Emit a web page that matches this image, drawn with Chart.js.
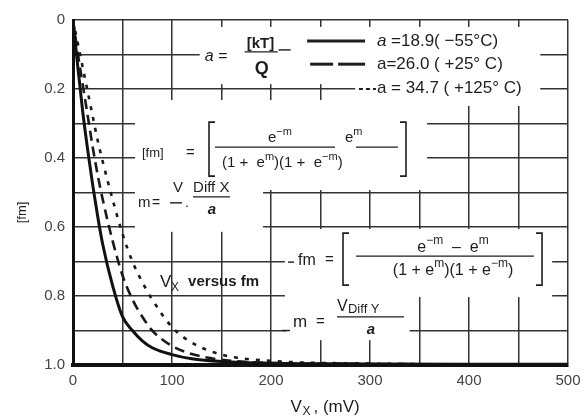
<!DOCTYPE html>
<html>
<head>
<meta charset="utf-8">
<script src="https://cdn.jsdelivr.net/npm/chart.js@4.4.1/dist/chart.umd.min.js"></script>
<style>
  html, body { margin: 0; padding: 0; background: #fff; }
  #wrap { width: 588px; height: 420px; }
</style>
</head>
<body>
<div id="wrap"><canvas id="fm-chart" width="588" height="420"></canvas></div>
<script>
// Vx (mV) sample points
const vxValues = [0, 5, 10, 15, 20, 25, 30, 40, 50, 60, 70, 80, 100, 120, 150, 200, 300, 400, 500];

// fm for the three temperatures
const fmCold = [0, 0.14, 0.27, 0.38, 0.48, 0.57, 0.65, 0.77, 0.86, 0.90, 0.93, 0.95, 0.97, 0.982, 0.99, 0.995, 0.997, 0.998, 0.998];
const fmRoom = [0, 0.10, 0.19, 0.28, 0.37, 0.45, 0.52, 0.64, 0.74, 0.81, 0.86, 0.90, 0.945, 0.968, 0.985, 0.994, 0.997, 0.998, 0.998];
const fmHot  = [0, 0.07, 0.14, 0.21, 0.28, 0.35, 0.41, 0.52, 0.62, 0.70, 0.76, 0.81, 0.89, 0.935, 0.97, 0.988, 0.996, 0.998, 0.998];

const seriesLabels = ['a =18.9( −55°C)', 'a=26.0 ( +25° C)', 'a = 34.7 ( +125° C)'];

// tick labels
const xTickLabels = ['0', '100', '200', '300', '400', '500'];
const yTickLabels = ['0', '0.2', '0.4', '0.6', '0.8', '1.0'];

const FONT = '"Liberation Sans", Arial, sans-serif';
const INK = '#1e1e1e';

function toPoints(ys) {
  return vxValues.map((x, i) => ({ x: x, y: ys[i] }));
}

// white patches where the original figure blanks the grid behind its formulas (mV / fm)
const blankAreas = [
  [128, 472, 0.02, 0.186],
  [285, 472, 0.174, 0.249],
  [62.6, 357.6, 0.232, 0.493],
  [62.6, 192, 0.478, 0.614],
  [214, 484, 0.606, 0.803],
  [216, 340, 0.803, 0.928]
];

function setFont(ctx, size, style) {
  ctx.font = (style ? style + ' ' : '') + size + 'px ' + FONT;
}

function put(ctx, s, x, y, size, style, align) {
  setFont(ctx, size, style);
  ctx.textAlign = align || 'left';
  ctx.textBaseline = 'middle';
  ctx.fillStyle = INK;
  ctx.fillText(s, x, y);
  return ctx.measureText(s).width;
}

function hline(ctx, x1, x2, y, w) {
  ctx.beginPath();
  ctx.lineWidth = w || 1.4;
  ctx.strokeStyle = INK;
  ctx.moveTo(x1, y);
  ctx.lineTo(x2, y);
  ctx.stroke();
}

function bracket(ctx, x, y1, y2, left) {
  const d = left ? 6 : -6;
  ctx.beginPath();
  ctx.lineWidth = 1.6;
  ctx.strokeStyle = INK;
  ctx.moveTo(x + d, y1);
  ctx.lineTo(x, y1);
  ctx.lineTo(x, y2);
  ctx.lineTo(x + d, y2);
  ctx.stroke();
}

// pieces: [text, 'n' | 'sup' | 'sub']
function run(ctx, pieces, x, y, size, align) {
  let total = 0;
  pieces.forEach(p => {
    setFont(ctx, p[1] === 'n' ? size : Math.round(size * 0.72));
    total += ctx.measureText(p[0]).width;
  });
  let cx = align === 'center' ? x - total / 2 : x;
  pieces.forEach(p => {
    const small = p[1] !== 'n';
    const dy = p[1] === 'sup' ? -size * 0.4 : (p[1] === 'sub' ? size * 0.3 : 0);
    cx += put(ctx, p[0], cx, y + dy, small ? Math.round(size * 0.72) : size);
  });
  return total;
}

const annotationPlugin = {
  id: 'annotations',
  beforeDatasetsDraw(chart) {
    const { ctx, scales: { x, y } } = chart;
    ctx.save();
    ctx.fillStyle = '#fff';
    blankAreas.forEach(b => {
      const x1 = x.getPixelForValue(b[0]), x2 = x.getPixelForValue(b[1]);
      const y1 = y.getPixelForValue(b[2]), y2 = y.getPixelForValue(b[3]);
      ctx.fillRect(x1, y1, x2 - x1, y2 - y1);
    });
    ctx.restore();
  },
  afterDraw(chart) {
    const { ctx, scales: { x, y }, chartArea } = chart;
    ctx.save();

    // a = [kT]/Q
    let ax = x.getPixelForValue(133), ay = y.getPixelForValue(0.107);
    put(ctx, 'a =', ax, ay, 16, 'italic');
    put(ctx, '[kT]', ax + 42, ay - 13, 15, 'bold');
    hline(ctx, ax + 40, ax + 73, ay - 5, 1.4);
    put(ctx, 'Q', ax + 57, ay + 12, 18, 'bold', 'center');
    hline(ctx, ax + 74, ax + 86, ay - 7, 1.4);

    // legend rows
    const lx1 = x.getPixelForValue(236.5), lx2 = x.getPixelForValue(295);
    const tx = x.getPixelForValue(307);
    let ly = y.getPixelForValue(0.061);
    hline(ctx, lx1, lx2, ly, 3);
    let w = put(ctx, 'a', tx, ly, 17, 'italic');
    put(ctx, seriesLabels[0].slice(1), tx + w, ly, 17);

    ly = y.getPixelForValue(0.128);
    hline(ctx, lx1 + 3, lx1 + 26, ly, 3);
    hline(ctx, lx1 + 31, lx2, ly, 3);
    put(ctx, seriesLabels[1], tx, ly, 17);

    ly = y.getPixelForValue(0.197);
    ctx.save();
    ctx.setLineDash([4, 3]);
    hline(ctx, tx - 18, tx - 1, ly + 1, 2);
    ctx.restore();
    put(ctx, seriesLabels[2], tx, ly, 17);

    // [fm] = [ e^-m/(1+e^m) . e^m/(1+e^-m) ]
    ax = x.getPixelForValue(69.7); ay = y.getPixelForValue(0.386);
    put(ctx, '[fm]', ax, ay, 13);
    put(ctx, '=', ax + 44, ay, 15);
    bracket(ctx, ax + 67, ay - 31, ay + 23, true);
    run(ctx, [['e', 'n'], ['−m', 'sup']], ax + 126, ay - 15, 15);
    run(ctx, [['e', 'n'], ['m', 'sup']], ax + 203, ay - 15, 15);
    hline(ctx, ax + 73, ax + 193, ay - 6, 1.3);
    hline(ctx, ax + 214, ax + 256, ay - 6, 1.3);
    run(ctx, [['(1 +  e', 'n'], ['m', 'sup'], [')(1 +  e', 'n'], ['−m', 'sup'], [')', 'n']], ax + 80, ay + 10, 15);
    bracket(ctx, ax + 264, ay - 31, ay + 23, false);

    // m = -V/a . Diff X / a
    ax = x.getPixelForValue(65.7); ay = y.getPixelForValue(0.53);
    put(ctx, 'm', ax, ay, 15);
    put(ctx, '=', ax + 14, ay, 14);
    put(ctx, 'V', ax + 35, ay - 15, 15);
    hline(ctx, ax + 32, ax + 44, ay, 1.4);
    put(ctx, '.', ax + 47, ay, 14);
    put(ctx, 'Diff X', ax + 55, ay - 15, 15);
    hline(ctx, ax + 55, ax + 92, ay - 6, 1.4);
    put(ctx, 'a', ax + 74, ay + 7, 15, 'italic bold', 'center');

    // fm = [ (e^-m - e^m) / ((1 + e^m)(1 + e^-m)) ]
    ax = x.getPixelForValue(227.3); ay = y.getPixelForValue(0.696);
    hline(ctx, ax - 10, ax - 4, ay + 2, 1.4);
    put(ctx, 'fm', ax, ay, 16);
    put(ctx, '=', ax + 27, ay, 15);
    bracket(ctx, ax + 45, ay - 27, ay + 25, true);
    run(ctx, [['e', 'n'], ['−m', 'sup'], ['  –  e', 'n'], ['m', 'sup']], ax + 155, ay - 13, 16, 'center');
    hline(ctx, ax + 58, ax + 236, ay - 4, 1.4);
    run(ctx, [['(1 + e', 'n'], ['m', 'sup'], [')(1 + e', 'n'], ['−m', 'sup'], [')', 'n']], ax + 155, ay + 10, 16, 'center');
    bracket(ctx, ax + 244, ay - 27, ay + 25, false);

    // Vx versus fm
    ax = x.getPixelForValue(88); ay = y.getPixelForValue(0.759);
    put(ctx, 'V', ax, ay, 17);
    put(ctx, 'X', ax + 11, ay + 6, 12);
    put(ctx, 'versus fm', ax + 28, ay, 15, 'bold');

    // m = V_Diff Y / a
    ax = x.getPixelForValue(222.2); ay = y.getPixelForValue(0.875);
    hline(ctx, ax - 11, ax - 3, y.getPixelForValue(0.9), 1.4);
    put(ctx, 'm', ax, ay, 17);
    put(ctx, '=', ax + 23, ay, 15);
    put(ctx, 'V', ax + 44, ay - 15, 16);
    put(ctx, 'Diff Y', ax + 55, ay - 12, 13);
    hline(ctx, ax + 44, ax + 111, ay - 5, 1.4);
    put(ctx, 'a', ax + 78, ay + 8, 15, 'italic bold', 'center');

    // axis titles
    const mid = (chartArea.left + chartArea.right) / 2;
    put(ctx, 'V', mid - 30, 407, 17);
    put(ctx, 'X', mid - 18, 412, 12);
    put(ctx, ', (mV)', mid - 7, 407, 17);

    ctx.translate(22, (chartArea.top + chartArea.bottom) / 2 + 20);
    ctx.rotate(-Math.PI / 2);
    put(ctx, '[fm]', 0, 0, 13, null, 'center');
    ctx.restore();
  }
};

new Chart(document.getElementById('fm-chart'), {
  type: 'line',
  data: {
    datasets: [
      {
        label: seriesLabels[0],
        data: toPoints(fmCold),
        borderColor: '#111',
        borderWidth: 3,
      },
      {
        label: seriesLabels[1],
        data: toPoints(fmRoom),
        borderColor: '#1a1a1a',
        borderWidth: 2.6,
        borderDash: [10, 6],
      },
      {
        label: seriesLabels[2],
        data: toPoints(fmHot),
        borderColor: '#1a1a1a',
        borderWidth: 2.6,
        borderDash: [4, 7],
      }
    ]
  },
  options: {
    responsive: false,
    animation: false,
    layout: { padding: { left: 0, right: 20, top: 20, bottom: 0 } },
    elements: {
      point: { radius: 0 },
      line: { cubicInterpolationMode: 'monotone', fill: false }
    },
    plugins: {
      legend: { display: false },
      tooltip: { enabled: false }
    },
    scales: {
      x: {
        type: 'linear',
        min: 0,
        max: 500,
        afterFit: s => { s.height = 55; },
        grid: { color: '#333', lineWidth: 1.5, drawTicks: false },
        border: { color: '#111', width: 4 },
        ticks: {
          stepSize: 50,
          padding: 7,
          color: '#444',
          font: { family: FONT, size: 15 },
          callback: v => (Math.round(v / 50) % 2 === 0 ? xTickLabels[Math.round(v / 100)] : '')
        }
      },
      y: {
        type: 'linear',
        reverse: true,
        min: 0,
        max: 1,
        afterFit: s => { s.width = 73; },
        grid: { color: '#333', lineWidth: 1.5, drawTicks: false },
        border: { color: '#111', width: 3 },
        ticks: {
          stepSize: 0.1,
          padding: 8,
          color: '#444',
          font: { family: FONT, size: 15 },
          callback: v => (Math.round(v * 10) % 2 === 0 ? yTickLabels[Math.round(v * 5)] : '')
        }
      }
    }
  },
  plugins: [annotationPlugin]
});
</script>
</body>
</html>
